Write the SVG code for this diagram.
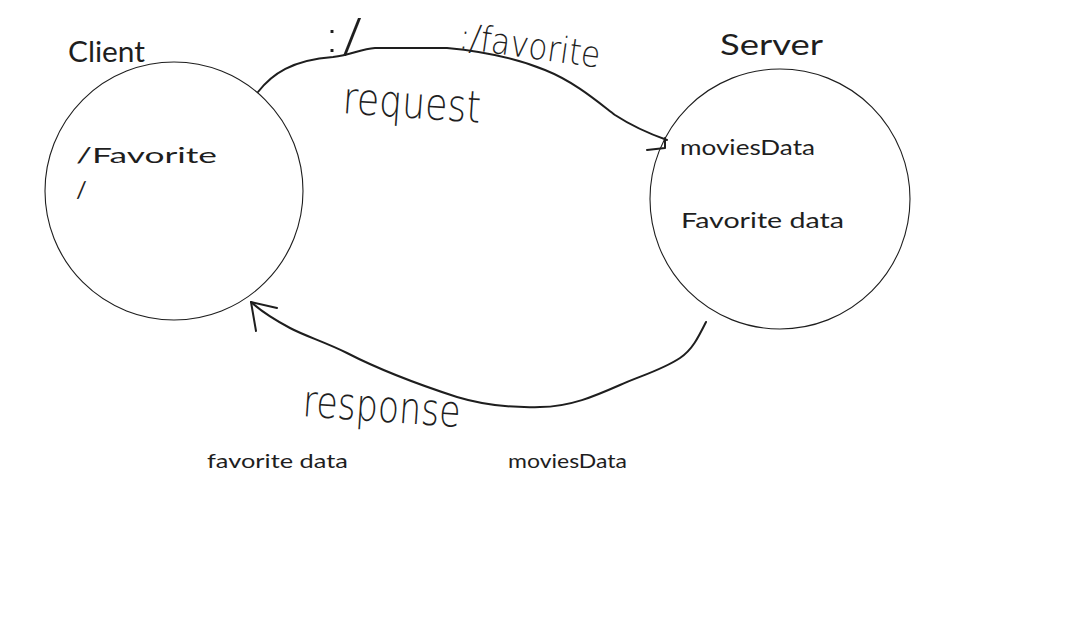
<svg xmlns="http://www.w3.org/2000/svg" width="1069" height="630" viewBox="0 0 1069 630">
<style>
.node{fill:none;stroke:#1e1e1e;stroke-width:1.1}
.con{fill:none;stroke:#1e1e1e;stroke-width:2;stroke-linecap:round;stroke-linejoin:round}
.t{font-family:"Lato","Open Sans","Liberation Sans",sans-serif;fill:#1e1e1e;font-weight:400}
.h{font-family:"DejaVu Sans","Liberation Sans",sans-serif;fill:#1e1e1e;font-weight:200}
</style>
<rect width="1069" height="630" fill="#ffffff"/>
<g id="client">
<circle class="node" cx="174" cy="191" r="129"/>
<text class="t" x="68" y="62" font-size="28" textLength="77" lengthAdjust="spacingAndGlyphs">Client</text>
<text class="t" x="76" y="163" font-size="22" textLength="141" lengthAdjust="spacingAndGlyphs">/Favorite</text>
<text class="t" x="76" y="198" font-size="24">/</text>
</g>
<g id="server">
<circle class="node" cx="780" cy="199" r="130"/>
<text class="t" x="720" y="55" font-size="28" textLength="103" lengthAdjust="spacingAndGlyphs">Server</text>
<text class="t" x="680" y="155" font-size="22" textLength="135" lengthAdjust="spacingAndGlyphs">moviesData</text>
<text class="t" x="681" y="228" font-size="22" textLength="163" lengthAdjust="spacingAndGlyphs">Favorite data</text>
</g>
<g id="connectors">
<path class="con" d="M258,92 C272,74 292,60 333,57 C352,55 360,49 375,48 L447,48 C490,52 518,59 545,70 C575,82 598,102 615,115 C635,128 650,134 667,140"/>
<path class="con" d="M665,138 L665,148 M647,150 L665,148"/>
<path class="con" d="M706,322 C698,338 692,350 680,358 C662,370 640,376 620,385 C595,396 570,407 540,407 C510,408 480,404 457,397 C420,385 380,370 347,353 C325,342 305,336 290,328 C275,320 262,312 251,302"/>
<path class="con" d="M251,302 L277,308 M251,302 L256,331"/>
<g id="labels">
<text class="h" x="322" y="52" font-size="46" textLength="40" lengthAdjust="spacingAndGlyphs">:/</text>
<text class="h" x="458" y="48" font-size="36" textLength="142" lengthAdjust="spacingAndGlyphs" transform="rotate(8 458 48)">:/favorite</text>
<text class="h" x="342" y="113" font-size="44" textLength="138" lengthAdjust="spacingAndGlyphs" transform="rotate(4 342 113)">request</text>
<text class="h" x="302" y="416" font-size="44" textLength="158" lengthAdjust="spacingAndGlyphs" transform="rotate(4 302 416)">response</text>
</g>
</g>
<g id="notes">
<text class="t" x="207" y="468" font-size="19" textLength="141" lengthAdjust="spacingAndGlyphs">favorite data</text>
<text class="t" x="508" y="468" font-size="19" textLength="119" lengthAdjust="spacingAndGlyphs">moviesData</text>
</g>
</svg>
